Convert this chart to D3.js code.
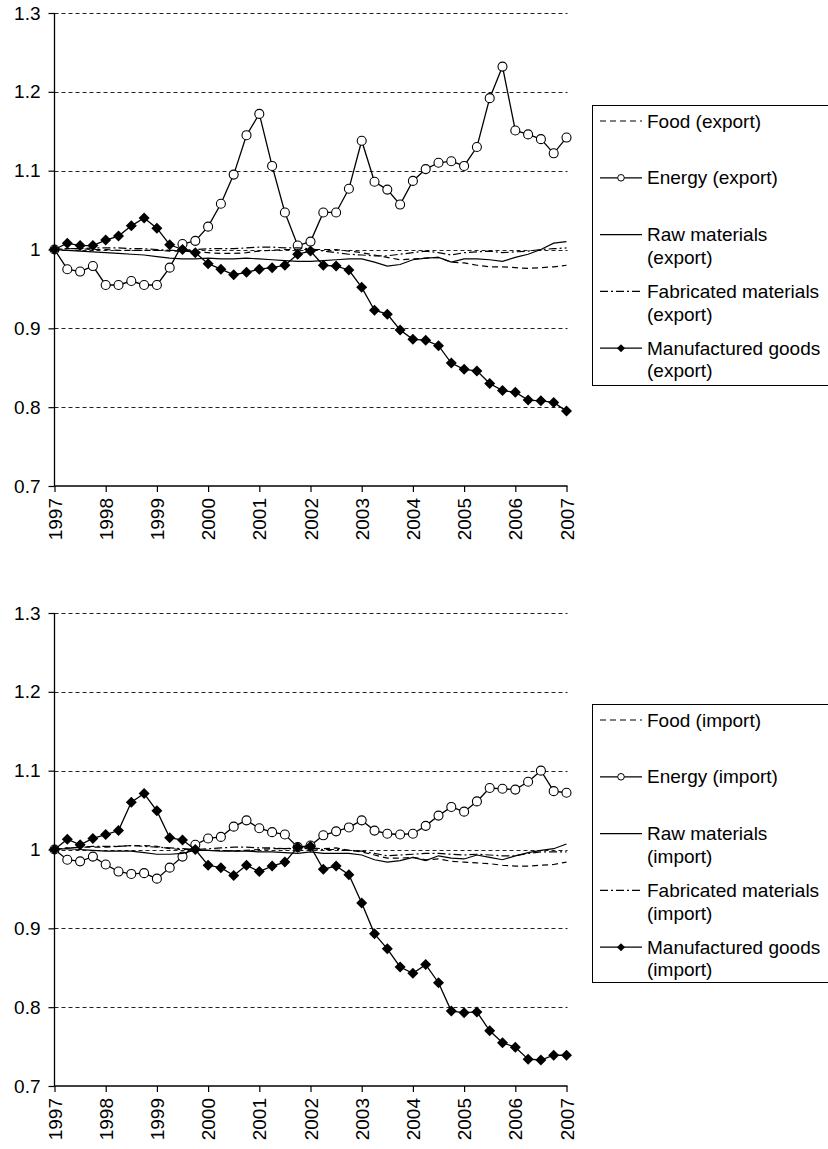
<!DOCTYPE html>
<html><head><meta charset="utf-8">
<script src="https://cdn.jsdelivr.net/npm/d3@7"></script>
<style>
body{margin:0;background:#fff}
svg{display:block}
text{font-family:"Liberation Sans",Arial,sans-serif;fill:#000}
</style>
</head><body>
<svg id="c" width="828" height="1149"></svg>
<script>
// ---------- DATA ----------
const yearTicks = [1997,1998,1999,2000,2001,2002,2003,2004,2005,2006,2007];
const yTicks = [0.7,0.8,0.9,1.0,1.1,1.2,1.3];
const yTickLabels = ["0.7","0.8","0.9","1","1.1","1.2","1.3"];
// quarterly observations, 1997Q1 .. 2007Q1
const quarters = d3.range(41).map(i => 1997 + i / 4);

const foodExport = [1.000,1.001,1.001,1.000,1.000,0.999,0.999,0.999,0.999,0.998,0.998,0.997,0.996,0.995,0.995,0.996,0.998,0.999,1.000,1.000,1.000,
  1.000,1.000,0.998,0.996,0.993,0.990,0.987,0.988,0.989,0.990,0.984,0.983,0.980,0.978,0.978,0.977,0.976,0.977,0.978,0.980];
const energyExport = [1.000,0.975,0.972,0.979,0.955,0.955,0.960,0.955,0.955,0.977,1.007,1.011,1.029,1.058,1.095,1.145,1.172,1.106,1.047,1.005,
  1.010,1.047,1.047,1.077,1.138,1.086,1.076,1.057,1.087,1.102,1.110,1.112,1.106,1.130,1.192,1.232,1.151,1.146,1.140,1.122,1.142];
const rawExport = [1.000,0.999,0.998,0.997,0.996,0.995,0.994,0.993,0.991,0.989,0.988,0.988,0.989,0.988,0.988,0.989,0.988,0.987,0.986,0.985,0.985,
  0.986,0.987,0.988,0.988,0.984,0.979,0.981,0.987,0.989,0.990,0.984,0.988,0.988,0.987,0.985,0.990,0.994,1.000,1.008,1.010];
const fabExport = [1.000,1.001,1.001,1.002,1.002,1.002,1.001,1.001,1.000,0.999,0.999,1.000,1.001,1.001,1.001,1.002,1.003,1.003,1.002,1.002,1.001,
  0.998,0.996,0.994,0.993,0.992,0.992,0.994,0.996,0.998,0.996,0.993,0.996,0.997,0.998,0.996,0.997,0.998,1.000,1.001,1.002];
const manuExport = [1.000,1.008,1.005,1.005,1.012,1.017,1.030,1.040,1.027,1.006,1.000,0.996,0.982,0.975,0.968,0.971,0.975,0.977,0.980,0.994,
  0.998,0.980,0.979,0.974,0.952,0.923,0.918,0.898,0.886,0.885,0.878,0.856,0.848,0.846,0.830,0.821,0.819,0.809,0.808,0.806,0.795];

const foodImport = [1.000,1.002,1.003,1.003,1.003,1.004,1.005,1.005,1.004,1.001,1.000,1.000,0.999,0.999,0.998,0.999,1.000,1.001,1.001,1.002,1.002,
  1.001,1.002,0.999,0.997,0.993,0.989,0.989,0.990,0.987,0.988,0.985,0.984,0.983,0.982,0.980,0.979,0.979,0.980,0.981,0.984];
const energyImport = [1.000,0.987,0.985,0.991,0.981,0.972,0.969,0.970,0.963,0.977,0.991,1.006,1.014,1.016,1.029,1.037,1.027,1.022,1.019,1.003,
  1.005,1.018,1.023,1.028,1.037,1.024,1.020,1.019,1.020,1.030,1.043,1.054,1.048,1.061,1.078,1.077,1.076,1.086,1.100,1.074,1.072];
const rawImport = [1.000,1.001,1.000,0.999,0.998,0.998,0.998,0.996,0.994,0.994,0.995,0.999,0.999,0.998,0.998,0.998,0.997,0.997,0.996,0.995,0.997,
  0.995,0.995,0.995,0.993,0.987,0.984,0.986,0.990,0.986,0.992,0.989,0.988,0.993,0.990,0.987,0.992,0.996,0.999,1.001,1.007];
const fabImport = [1.000,1.002,1.003,1.004,1.004,1.004,1.005,1.004,1.003,1.002,1.001,1.000,1.001,1.002,1.003,1.003,1.002,1.002,1.001,1.001,1.001,
  1.000,1.000,0.999,0.998,0.995,0.992,0.993,0.994,0.995,0.995,0.994,0.993,0.994,0.993,0.992,0.992,0.995,0.997,0.997,0.997];
const manuImport = [1.000,1.013,1.006,1.014,1.019,1.024,1.060,1.071,1.049,1.015,1.012,1.000,0.980,0.977,0.967,0.980,0.972,0.979,0.984,1.003,
  1.004,0.975,0.979,0.968,0.932,0.893,0.874,0.851,0.843,0.854,0.831,0.795,0.793,0.794,0.770,0.755,0.749,0.734,0.733,0.739,0.739];

const exportNames = [["Food (export)"],["Energy (export)"],["Raw materials","(export)"],["Fabricated materials","(export)"],["Manufactured goods","(export)"]];
const importNames = [["Food (import)"],["Energy (import)"],["Raw materials","(import)"],["Fabricated materials","(import)"],["Manufactured goods","(import)"]];

// ---------- STYLES ----------
const styles = [
  {dash:"6,4", marker:null},
  {dash:null, marker:"circle"},
  {dash:null, marker:null},
  {dash:"8,3,2,3", marker:null},
  {dash:null, marker:"diamond"}
];

const svg = d3.select("#c");
const FS = 19;
const FONT = '"Liberation Sans",Arial,sans-serif';
const x = d3.scaleLinear().domain([1997, 2007]).range([54.5, 566.5]);

function panel(top, bottom, series, names, legTop, legBottom) {
  const y = d3.scaleLinear().domain([0.7, 1.3]).range([bottom, top]);
  const g = svg.append("g");

  // gridlines
  g.selectAll("line.grid").data(yTicks.filter(v => v > 0.7)).join("line")
    .attr("x1", x(1997)).attr("x2", x(2007) + 1)
    .attr("y1", d => Math.round(y(d)) + 0.5).attr("y2", d => Math.round(y(d)) + 0.5)
    .attr("stroke", "#222").attr("stroke-width", 1).attr("stroke-dasharray", "4,3");

  // y axis
  const yAxis = d3.axisLeft(y).tickValues(yTicks).tickSize(6).tickPadding(8)
    .tickFormat((d, i) => yTickLabels[i]);
  const ya = g.append("g").attr("transform", `translate(${x(1997)},0)`).call(yAxis);
  ya.attr("font-family", FONT);
  ya.select(".domain").attr("stroke", "#000").attr("stroke-width", 1.3).attr("d", `M0,${y(1.3)}V${y(0.7)}`);
  ya.selectAll(".tick line").attr("stroke", "#000").attr("stroke-width", 1.2);
  ya.selectAll("text").style("font-size", FS + "px").style("font-family", FONT).attr("fill", "#000");

  // x axis
  const xAxis = d3.axisBottom(x).tickValues(yearTicks).tickSize(6).tickFormat(d3.format("d"));
  const xa = g.append("g").attr("transform", `translate(0,${bottom})`).call(xAxis);
  xa.attr("font-family", FONT);
  xa.select(".domain").attr("stroke", "#000").attr("stroke-width", 1.3).attr("d", `M${x(1997)},0H${x(2007) + 1}`);
  xa.selectAll(".tick line").attr("stroke", "#000").attr("stroke-width", 1.2);
  xa.selectAll("text").style("font-size", FS + "px").style("font-family", FONT)
    .attr("fill", "#000").attr("transform", "rotate(-90)")
    .attr("text-anchor", "end").attr("x", -12).attr("y", 0).attr("dy", "0.35em");

  // series
  series.forEach((vals, si) => {
    const st = styles[si];
    const line = d3.line().x((d, i) => x(quarters[i])).y(d => y(d));
    g.append("path").datum(vals).attr("d", line)
      .attr("fill", "none").attr("stroke", "#000")
      .attr("stroke-width", st.marker ? 1.3 : 1.2)
      .attr("stroke-dasharray", st.dash);
    if (st.marker === "circle") {
      g.selectAll(null).data(vals).join("circle")
        .attr("cx", (d, i) => x(quarters[i])).attr("cy", d => y(d)).attr("r", 4.5)
        .attr("fill", "#fff").attr("stroke", "#000").attr("stroke-width", 1.1);
    } else if (st.marker === "diamond") {
      g.selectAll(null).data(vals).join("path")
        .attr("transform", (d, i) => `translate(${x(quarters[i])},${y(d)})`)
        .attr("d", "M0,-5.5L5.5,0L0,5.5L-5.5,0Z").attr("fill", "#000");
    }
  });

  // legend
  const lg = svg.append("g");
  lg.append("rect").attr("x", 592.5).attr("y", legTop + 0.5).attr("width", 260).attr("height", legBottom - legTop)
    .attr("fill", "#fff").attr("stroke", "#000").attr("stroke-width", 1);
  const step = 56.8;
  names.forEach((lines, i) => {
    const cy = legTop + 16 + i * step;
    const st = styles[i];
    lg.append("line").attr("x1", 600).attr("x2", 642).attr("y1", cy).attr("y2", cy)
      .attr("stroke", "#000").attr("stroke-width", 1.2).attr("stroke-dasharray", st.dash);
    if (st.marker === "circle") {
      lg.append("circle").attr("cx", 621).attr("cy", cy).attr("r", 3.3).attr("fill", "#fff").attr("stroke", "#000");
    } else if (st.marker === "diamond") {
      lg.append("path").attr("transform", `translate(621,${cy})`).attr("d", "M0,-4L4,0L0,4L-4,0Z").attr("fill", "#000");
    }
    lines.forEach((t, k) => {
      lg.append("text").attr("x", 647).attr("y", cy + k * 22.5).attr("dy", "0.35em")
        .style("font-size", FS + "px").style("font-family", FONT).text(t);
    });
  });
}

panel(13, 486, [foodExport, energyExport, rawExport, fabExport, manuExport], exportNames, 105, 385);
panel(613, 1086, [foodImport, energyImport, rawImport, fabImport, manuImport], importNames, 704, 982);
</script>
</body></html>
